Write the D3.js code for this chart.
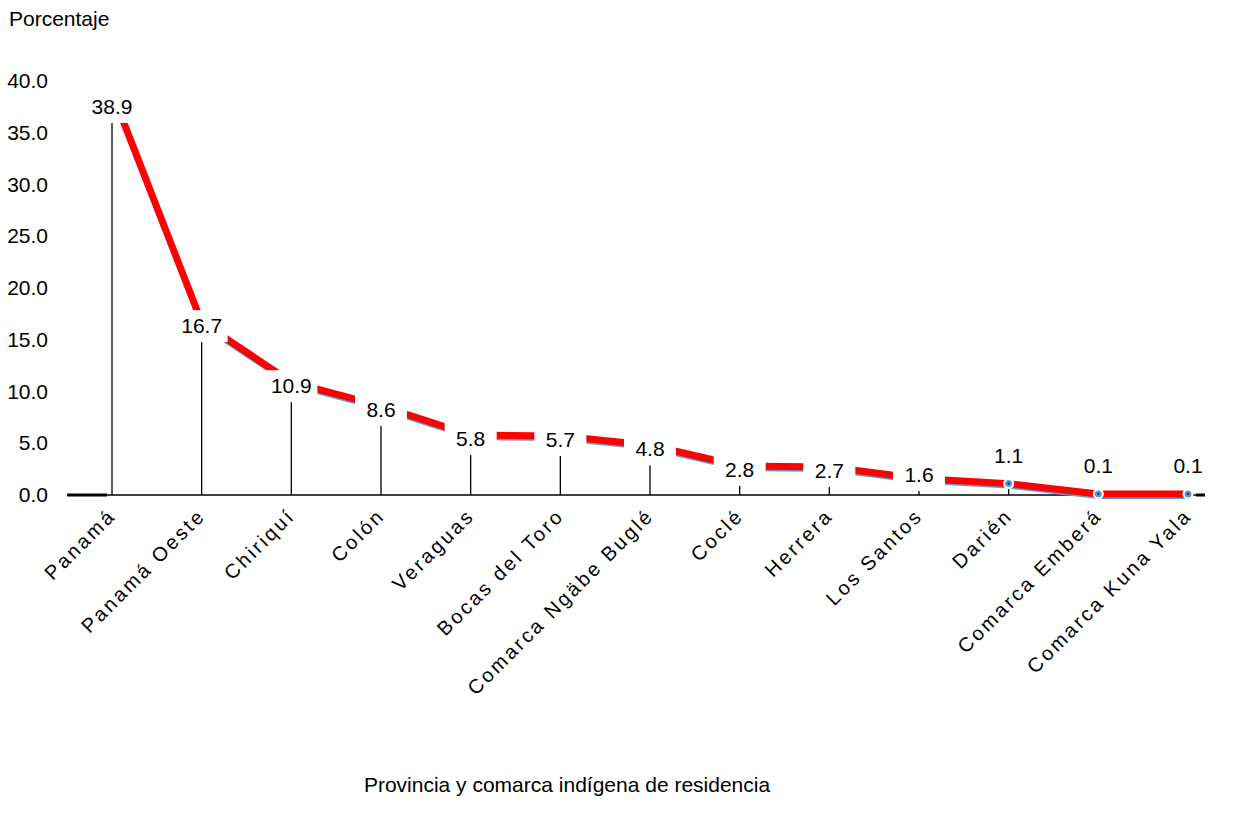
<!DOCTYPE html>
<html>
<head>
<meta charset="utf-8">
<script src="https://cdn.jsdelivr.net/npm/d3@7"></script>
<style>
  body { margin: 0; background: #fff; }
  text { font-family: "Liberation Sans", Arial, sans-serif; fill: #000; }
</style>
</head>
<body>
<svg width="1234" height="824"></svg>
<script>
// Data
var categories = ["Panamá", "Panamá Oeste", "Chiriquí", "Colón", "Veraguas", "Bocas del Toro",
  "Comarca Ngäbe Buglé", "Coclé", "Herrera", "Los Santos", "Darién", "Comarca Emberá", "Comarca Kuna Yala"];
var values = [38.9, 16.7, 10.9, 8.6, 5.8, 5.7, 4.8, 2.8, 2.7, 1.6, 1.1, 0.1, 0.1];
var yTicks = [0, 5, 10, 15, 20, 25, 30, 35, 40];

var data = categories.map((c, i) => ({name: c, value: values[i], i: i}));

const svg = d3.select('svg');

const x = d3.scalePoint().domain(categories).range([112, 1188]);
const y = d3.scaleLinear().domain([0, 40]).range([495, 81]);

// Titles
svg.append('text').attr('x', 9).attr('y', 26).style('font-size', '21px').text('Porcentaje');
svg.append('text').attr('x', 567).attr('y', 792).attr('text-anchor', 'middle')
  .style('font-size', '21px').text('Provincia y comarca indígena de residencia');

// y tick labels
svg.selectAll('.ytick').data(yTicks).enter().append('text')
  .attr('x', 48).attr('y', d => y(d) + 7)
  .attr('text-anchor', 'end').style('font-size', '21px')
  .text(d => d.toFixed(1));

// x axis line (thick ends, thin middle like the original)
var step = x.step();
var last = categories[categories.length - 1];
svg.append('line').attr('x1', x(categories[0]) - step / 2).attr('x2', x(last) + 17)
  .attr('y1', y(0)).attr('y2', y(0)).attr('stroke', '#000').attr('stroke-width', 1.6);
svg.append('line').attr('x1', x(categories[0]) - step / 2).attr('x2', x(categories[0]) - 5)
  .attr('y1', y(0)).attr('y2', y(0)).attr('stroke', '#000').attr('stroke-width', 3);
svg.append('line').attr('x1', x(last) + 8).attr('x2', x(last) + 17)
  .attr('y1', y(0)).attr('y2', y(0)).attr('stroke', '#000').attr('stroke-width', 3);

// drop lines
svg.selectAll('.drop').data(data).enter().append('line')
  .attr('x1', d => x(d.name)).attr('x2', d => x(d.name))
  .attr('y1', d => y(d.value)).attr('y2', y(0))
  .attr('stroke', '#000').attr('stroke-width', 1.3);

// x labels
svg.selectAll('.xlab').data(data).enter().append('text')
  .attr('transform', d => 'translate(' + (x(d.name) + 5) + ',' + 517 + ') rotate(-45)')
  .attr('text-anchor', 'end').style('font-size', '20px').style('letter-spacing', '2.7px')
  .text(d => d.name);

// lines: blue shadow under the red one
const line = d3.line().x(d => x(d.name)).y(d => y(d.value));
svg.append('path').datum(data).attr('d', line).attr('fill', 'none')
  .attr('stroke', '#5b9bd5').attr('stroke-width', 4).attr('transform', 'translate(0,3)');
svg.append('path').datum(data).attr('d', line).attr('fill', 'none')
  .attr('stroke', '#ff0000').attr('stroke-width', 7);

// markers for small values
var small = data.filter(d => d.i >= 10);
svg.selectAll('.mk').data(small).enter().append('circle')
  .attr('cx', d => x(d.name)).attr('cy', d => y(d.value)).attr('r', 4.5)
  .attr('fill', '#5b9bd5').attr('stroke', '#fff').attr('stroke-width', 2);
svg.selectAll('.mkc').data(small).enter().append('circle')
  .attr('cx', d => x(d.name)).attr('cy', d => y(d.value)).attr('r', 1.3)
  .attr('fill', '#1f3864');

// value labels with white boxes
var lab = svg.selectAll('.lab').data(data).enter().append('g')
  .attr('transform', d => {
    var ly = d.i >= 10 ? y(d.value) - 28 : Math.min(Math.max(y(d.value) + 4, y(37.5)), 475);
    return 'translate(' + x(d.name) + ',' + ly + ')';
  });
lab.append('rect').attr('x', -26).attr('y', -16).attr('width', 52).attr('height', 32)
  .attr('fill', '#fff').attr('display', d => d.i >= 10 ? 'none' : null);
lab.append('text').attr('text-anchor', 'middle').attr('y', 7)
  .style('font-size', '21px').text(d => d.value.toFixed(1));
</script>
</body>
</html>
